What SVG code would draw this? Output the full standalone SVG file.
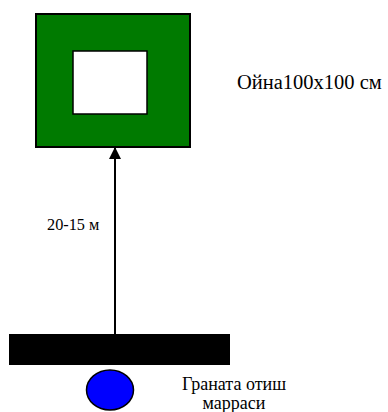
<svg xmlns="http://www.w3.org/2000/svg" width="388" height="412" viewBox="0 0 388 412">
<defs>
<marker id="ah" markerWidth="12" markerHeight="12" refX="11" refY="6" orient="auto" markerUnits="userSpaceOnUse">
<path d="M0,0 L12,6 L0,12 z" fill="#000"/>
</marker>
</defs>
<rect width="388" height="412" fill="#fff"/>
<g id="target">
<rect x="36" y="14" width="154" height="133" fill="#007a00" stroke="#000" stroke-width="2"/>
<rect x="73" y="51" width="74" height="63" fill="#fff" stroke="#000" stroke-width="1.5"/>
</g>
<g id="bar">
<rect x="9" y="334" width="221" height="31" fill="#000"/>
</g>
<g id="grenade">
<ellipse cx="110" cy="390" rx="23.5" ry="20" fill="#0000ff" stroke="#000" stroke-width="1.5"/>
</g>
<g id="connectors">
<line x1="115" y1="334" x2="115" y2="148" stroke="#000" stroke-width="2" marker-end="url(#ah)"/>
</g>
<g id="labels" font-family="Liberation Serif, serif" fill="#000">
<text x="237" y="89" font-size="20.5">Ойна100x100 см</text>
<text x="47" y="230" font-size="16.3">20-15 м</text>
<text x="234" y="390" font-size="18" text-anchor="middle">Граната отиш</text>
<text x="234" y="409" font-size="18" text-anchor="middle">марраси</text>
</g>
</svg>
